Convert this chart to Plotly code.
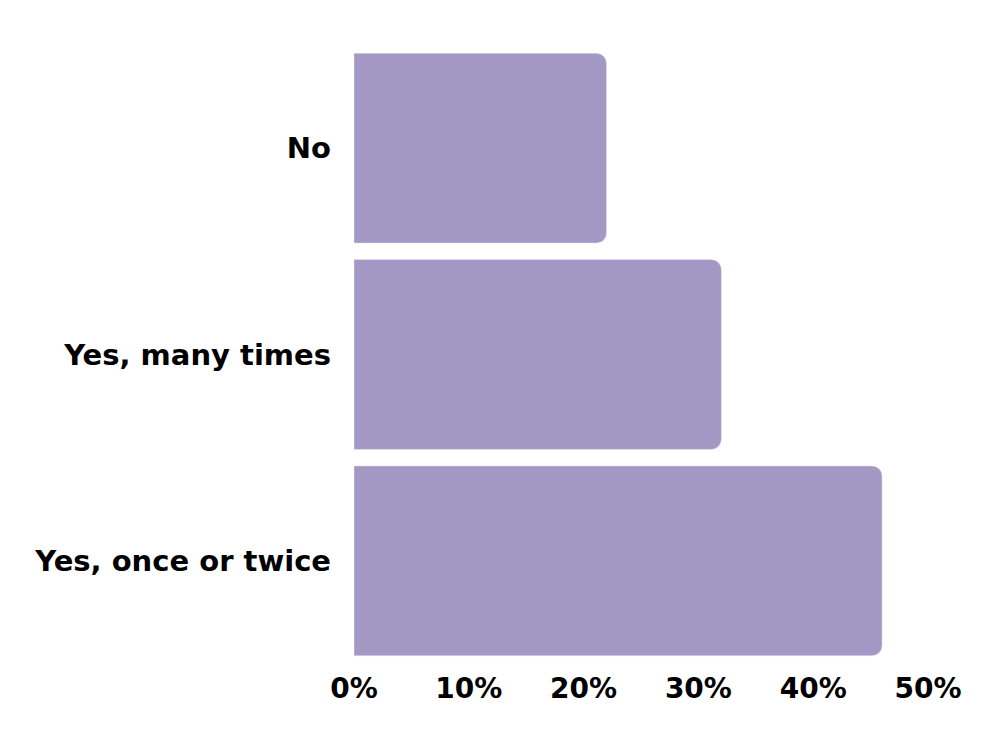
import plotly.graph_objects as go

# Datos
categorias = ['Yes, once or twice', 'Yes, many times', 'No']
porcentajes = [46, 32, 22]
tick_vals = [0, 10, 20, 30, 40, 50]
tick_text = ['0%', '10%', '20%', '30%', '40%', '50%']

fig = go.Figure()

fig.add_trace(
    go.Bar(
        x=porcentajes,
        y=categorias,
        orientation='h',
        marker=dict(color='#A397C3', cornerradius=10),
        hoverinfo='skip'
    )
)

# La página añade 8px de margen al cuerpo, se compensa aquí
fig.update_layout(
    width=1000,
    height=750,
    plot_bgcolor='white',
    paper_bgcolor='white',
    bargap=0.08,
    showlegend=False,
    margin=dict(l=346, r=80, t=37, b=94),
    font=dict(family='DejaVu Sans', size=27, color='black', weight='bold')
)

fig.update_xaxes(
    range=[0, 50],
    tickvals=tick_vals,
    ticktext=tick_text,
    tickfont=dict(size=28),
    showgrid=False,
    zeroline=False,
    showline=False,
    ticks='',
    ticklabelstandoff=5
)

fig.update_yaxes(
    tickfont=dict(size=29),
    showgrid=False,
    zeroline=False,
    showline=False,
    ticks='',
    ticklabelstandoff=22
)

fig.write_html("out.html")
